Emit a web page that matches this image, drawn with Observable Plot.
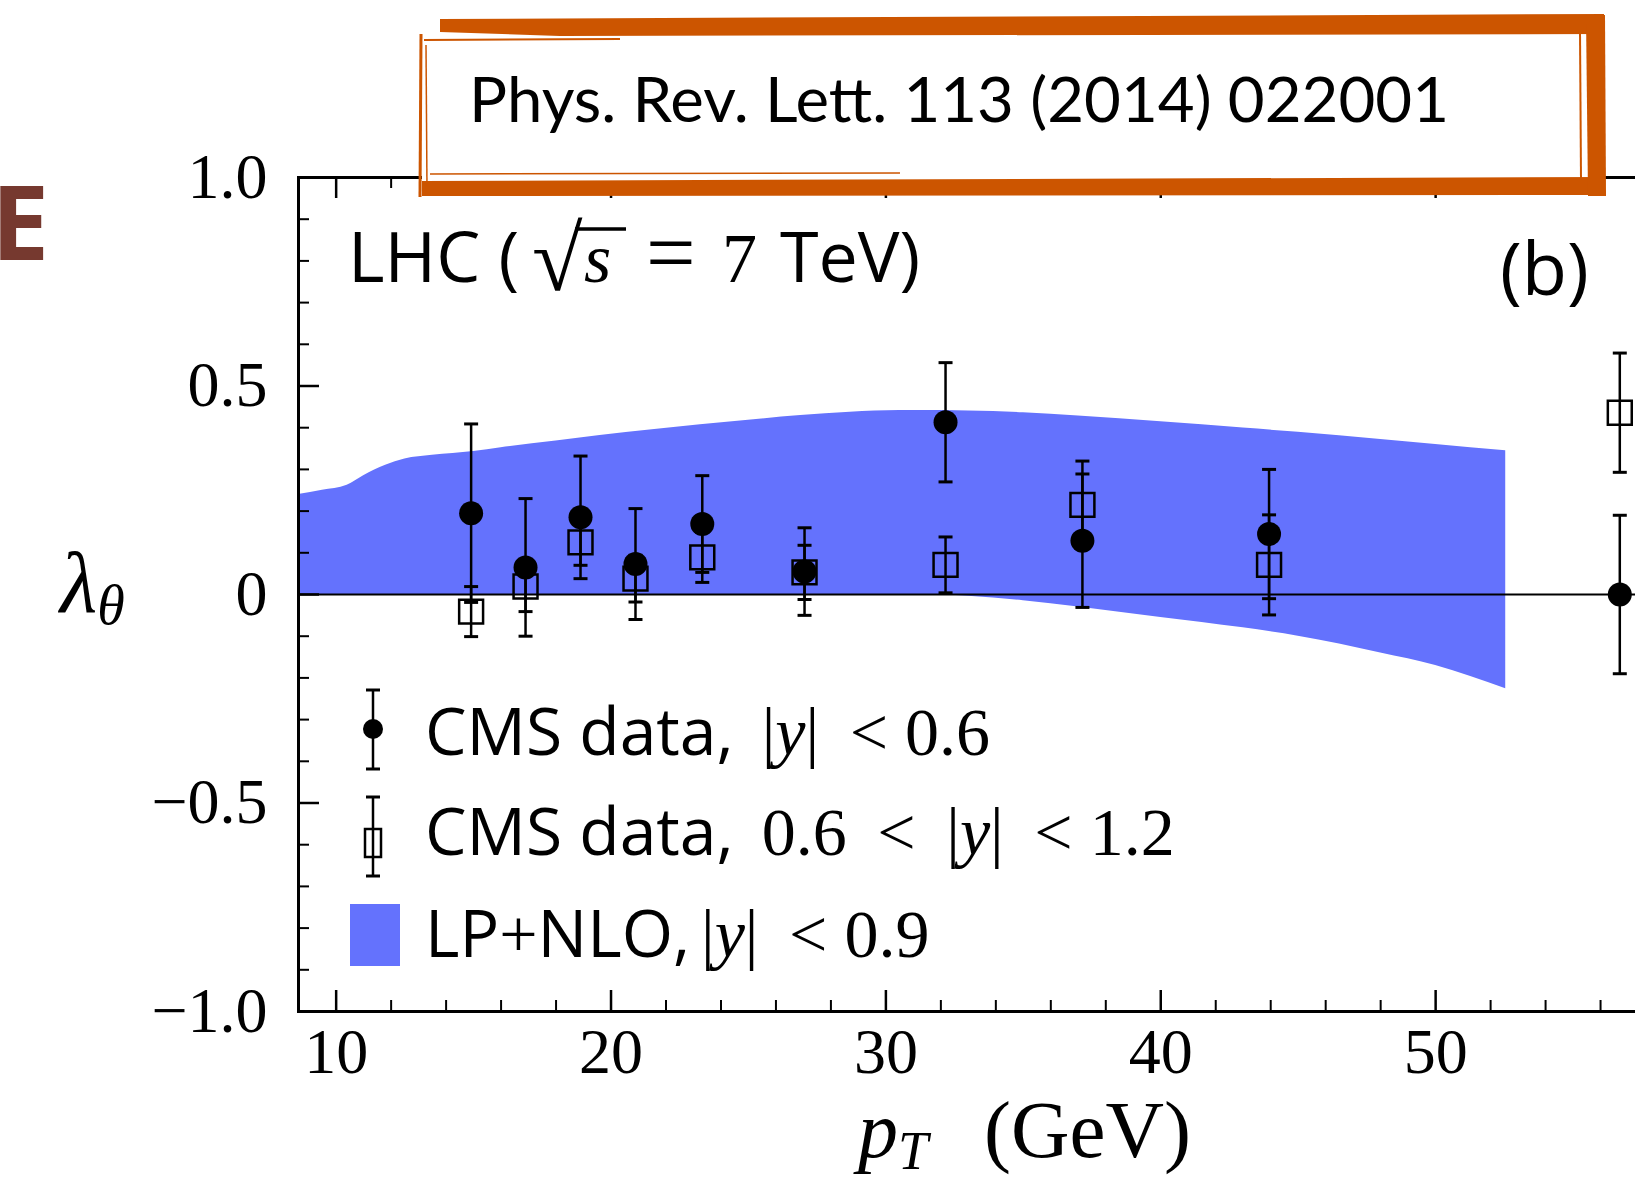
<!DOCTYPE html>
<html>
<head>
<meta charset="utf-8">
<script src="https://cdn.jsdelivr.net/npm/d3@7"></script>
<script src="https://cdn.jsdelivr.net/npm/@observablehq/plot@0.6"></script>
<style>
  html, body { margin: 0; padding: 0; background: #fff; overflow: hidden; width: 1635px; height: 1177px; }
  #wrap { position: relative; width: 1635px; height: 1177px; overflow: hidden; }
  #wrap > svg { position: absolute; left: 0; top: 0; max-width: none !important; }
</style>
</head>
<body>
<div id="wrap"></div>
<script>
// ---------- data ----------
const ptBins      = [14.91, 16.89, 18.89, 20.89, 23.32, 27.04, 32.17, 37.15, 43.94, 56.7];
// CMS data, |y| < 0.6 (solid circles)
const lamCentral  = [0.195, 0.065, 0.185, 0.073, 0.169, 0.055, 0.413, 0.129, 0.145, 0.0];
const errCentral  = [0.214, 0.165, 0.147, 0.133, 0.116, 0.105, 0.143, 0.160, 0.155, 0.19];
// CMS data, 0.6 < |y| < 1.2 (open squares)
const lamForward  = [-0.041, 0.019, 0.125, 0.038, 0.089, 0.053, 0.071, 0.215, 0.071, 0.436];
const errForward  = [0.060, 0.060, 0.055, 0.056, 0.060, 0.065, 0.067, 0.105, 0.120, 0.143];
// LP+NLO band, |y| < 0.9
const bandPt = [8.63, 9.5, 10.4, 11.0, 11.8, 12.5, 13.5, 15, 16, 18, 19.6, 21.5, 23.25, 25, 26.9, 28.7, 30.5, 31.2, 33, 35, 37, 40, 43, 45, 48, 50, 52.55];
const bandLo = [0, 0, 0, 0, 0, 0, 0, 0, 0, 0, 0, 0, 0, 0, 0, 0, 0, 0, -0.004, -0.015, -0.03, -0.055, -0.08, -0.10, -0.14, -0.17, -0.226];
const bandHi = [0.24, 0.25, 0.262, 0.285, 0.31, 0.325, 0.334, 0.343, 0.352, 0.368, 0.381, 0.395, 0.407, 0.418, 0.429, 0.437, 0.441, 0.441, 0.44, 0.436, 0.428, 0.414, 0.399, 0.389, 0.372, 0.36, 0.345];
// axes
const xMajorTicks = [10, 20, 30, 40, 50];
const xMinorTicks = [12, 14, 16, 18, 22, 24, 26, 28, 32, 34, 36, 38, 42, 44, 46, 48, 52, 54, 56, 58];
const yMajorTicks = [-1, -0.5, 0, 0.5, 1];
const yMinorTicks = [-0.9, -0.8, -0.7, -0.6, -0.4, -0.3, -0.2, -0.1, 0.1, 0.2, 0.3, 0.4, 0.6, 0.7, 0.8, 0.9];
const yTickLabels = ["\u22121.0", "\u22120.5", "0", "0.5", "1.0"];

const BLUE = "#6472fd";

const central = ptBins.map((pt, i) => ({pt, v: lamCentral[i], e: errCentral[i]}));
const forward = ptBins.map((pt, i) => ({pt, v: lamForward[i], e: errForward[i]}));
const band = bandPt.map((pt, i) => ({pt, lo: bandLo[i], hi: bandHi[i]}));

const W = 1720, H = 1177, ML = 298, MR = 10, MT = 177, MB = 166;
const innerW = W - ML - MR, innerH = H - MT - MB;
const MAJ = 21, MIN = 11;

const cap = {draw(ctx, size) { const r = Math.sqrt(size / Math.PI); ctx.moveTo(-r, 0); ctx.lineTo(r, 0); }};

const errMarks = (data) => [
  Plot.ruleX(data, {x: "pt", y1: d => d.v - d.e, y2: d => d.v + d.e, stroke: "black", strokeWidth: 2.5}),
  Plot.dot(data, {x: "pt", y: d => d.v + d.e, symbol: cap, r: 7, fill: "none", stroke: "black", strokeWidth: 3}),
  Plot.dot(data, {x: "pt", y: d => d.v - d.e, symbol: cap, r: 7, fill: "none", stroke: "black", strokeWidth: 3})
];

const chart = Plot.plot({
  width: W, height: H,
  marginLeft: ML, marginRight: MR, marginTop: MT, marginBottom: MB,
  x: {domain: [8.63, 60]},
  y: {domain: [-1, 1]},
  style: {background: "transparent", fontFamily: "'Liberation Serif', serif", fontSize: "64px", color: "black", overflow: "visible", maxWidth: "none"},
  marks: [
    Plot.areaY(band, {x: "pt", y1: "lo", y2: "hi", fill: BLUE, curve: "monotone-x"}),
    Plot.ruleY([0], {stroke: "black", strokeWidth: 2}),
    // ticks pointing inward
    Plot.tickX(xMajorTicks, {x: d => d, insetTop: innerH - MAJ, strokeWidth: 2.5}),
    Plot.tickX(xMinorTicks, {x: d => d, insetTop: innerH - MIN, strokeWidth: 2}),
    Plot.tickX(xMajorTicks, {x: d => d, insetBottom: innerH - MAJ, strokeWidth: 2.5}),
    Plot.tickX(xMinorTicks, {x: d => d, insetBottom: innerH - MIN, strokeWidth: 2}),
    Plot.tickY(yMajorTicks, {y: d => d, insetRight: innerW - MAJ, strokeWidth: 2.5}),
    Plot.tickY(yMinorTicks, {y: d => d, insetRight: innerW - MIN, strokeWidth: 2}),
    Plot.frame({stroke: "black", strokeWidth: 3}),
    Plot.axisX({ticks: xMajorTicks, tickSize: 0, tickPadding: 16, label: null, fontSize: 64}),
    Plot.axisY({ticks: yMajorTicks, tickSize: 0, tickPadding: 31, label: null, fontSize: 64,
                tickFormat: d => yTickLabels[yMajorTicks.indexOf(d)]}),
    // open squares
    ...errMarks(forward),
    Plot.dot(forward, {x: "pt", y: "v", symbol: "square", r: 13.5, fill: "none", stroke: "black", strokeWidth: 2.5}),
    // solid circles
    ...errMarks(central),
    Plot.dot(central, {x: "pt", y: "v", r: 12, fill: "black", stroke: "none"})
  ]
});
chart.style.maxWidth = "none";
document.getElementById("wrap").appendChild(chart);

// ---------- annotations overlay ----------
const ov = d3.select("#wrap").append("svg")
  .attr("width", 1635).attr("height", 1177)
  .style("pointer-events", "none");

const SANS = "'Open Sans', 'DejaVu Sans', sans-serif";
const SERIF = "'Liberation Serif', serif";

// big letter at left edge
ov.append("text").attr("x", -9).attr("y", 260).attr("font-family", SANS).attr("font-weight", 700)
  .attr("font-size", 104).attr("fill", "#76392f").text("E");

// title box with rough orange border
const OR = "#cc5500";
const box = ov.append("g");
box.append("rect").attr("x", 422).attr("y", 30).attr("width", 1170).attr("height", 154).attr("fill", "white");
box.append("path").attr("fill", OR).attr("d", "M440,19 L1604,14 L1605,34 L560,36 L440,32 Z");
box.append("path").attr("fill", OR).attr("d", "M422,181 L1604,177 L1606,195 L422,196 Z");
box.append("path").attr("fill", OR).attr("d", "M1586,16 L1605,15 L1606,196 L1588,196 Z");
box.append("line").attr("x1", 1580).attr("y1", 32).attr("x2", 1581).attr("y2", 180).attr("stroke", OR).attr("stroke-width", 2);
box.append("line").attr("x1", 421).attr("y1", 34).attr("x2", 420).attr("y2", 197).attr("stroke", OR).attr("stroke-width", 3);
box.append("line").attr("x1", 426).attr("y1", 45).attr("x2", 427).attr("y2", 190).attr("stroke", OR).attr("stroke-width", 1.5);
box.append("line").attr("x1", 424).attr("y1", 40).attr("x2", 620).attr("y2", 39).attr("stroke", OR).attr("stroke-width", 2);
box.append("line").attr("x1", 430).attr("y1", 174).attr("x2", 900).attr("y2", 173).attr("stroke", OR).attr("stroke-width", 1.5);
box.append("text").attr("x", 469).attr("y", 122).attr("font-family", "Lato, 'Open Sans', sans-serif")
  .attr("font-size", 62).attr("textLength", 980).attr("lengthAdjust", "spacingAndGlyphs")
  .attr("fill", "black").text("Phys. Rev. Lett. 113 (2014) 022001");

// LHC label
const lhc = ov.append("text").attr("y", 282).attr("font-size", 70).attr("fill", "black");
lhc.append("tspan").attr("x", 348).attr("font-family", SANS).text("LHC (");
lhc.append("tspan").attr("x", 532).attr("y", 290).attr("font-family", SERIF).attr("font-size", 92).text("\u221A");
lhc.append("tspan").attr("x", 584).attr("y", 282).attr("font-family", SERIF).attr("font-style", "italic").text("s");
lhc.append("tspan").attr("x", 646).attr("font-family", SERIF).attr("font-size", 88).text("=");
lhc.append("tspan").attr("x", 722).attr("font-family", SERIF).text("7");
lhc.append("tspan").attr("x", 780).attr("font-family", SANS).text("TeV)");
ov.append("line").attr("x1", 575).attr("x2", 626).attr("y1", 229).attr("y2", 229).attr("stroke", "black").attr("stroke-width", 3.5);

// panel label
ov.append("text").attr("x", 1500).attr("y", 295).attr("font-family", SANS).attr("font-size", 74).attr("fill", "black").text("(b)");

// axis titles
const yl = ov.append("text").attr("x", 60).attr("y", 612).attr("font-family", SERIF).attr("font-style", "italic").attr("fill", "black");
yl.append("tspan").attr("font-size", 86).text("\u03BB");
yl.append("tspan").attr("font-size", 56).attr("dy", 12).text("\u03B8");

const xl = ov.append("text").attr("x", 858).attr("y", 1157).attr("font-family", SERIF).attr("fill", "black");
xl.append("tspan").attr("font-size", 80).attr("font-style", "italic").text("p");
xl.append("tspan").attr("font-size", 54).attr("font-style", "italic").attr("dy", 12).text("T");
xl.append("tspan").attr("x", 984).attr("dy", -12).attr("font-size", 81).text("(GeV)");

// legend
const lg = ov.append("g").attr("stroke", "black");
function errGlyph(cx, y1, y2) {
  lg.append("line").attr("x1", cx).attr("x2", cx).attr("y1", y1).attr("y2", y2).attr("stroke-width", 2.5);
  lg.append("line").attr("x1", cx - 7).attr("x2", cx + 7).attr("y1", y1).attr("y2", y1).attr("stroke-width", 3);
  lg.append("line").attr("x1", cx - 7).attr("x2", cx + 7).attr("y1", y2).attr("y2", y2).attr("stroke-width", 3);
}
errGlyph(373, 690, 769);
lg.append("circle").attr("cx", 373).attr("cy", 729).attr("r", 10).attr("fill", "black").attr("stroke", "none");
errGlyph(373, 797, 876);
lg.append("rect").attr("x", 365).attr("y", 829).attr("width", 16).attr("height", 28).attr("fill", "none").attr("stroke-width", 2.5);
ov.append("rect").attr("x", 350).attr("y", 904).attr("width", 50).attr("height", 62).attr("fill", BLUE);

// legend texts: [text, font, italic]
const legendRows = [
  {y: 755, parts: [["CMS data,\u00A0\u2009", SANS, 0], ["|", SERIF, 0], ["y", SERIF, 1], ["|\u00A0\u2009<\u00A0", SERIF, 0], ["0.6", SERIF, 0]]},
  {y: 855, parts: [["CMS data,\u00A0\u2009", SANS, 0], ["0.6\u00A0\u2009<\u00A0\u2009|", SERIF, 0], ["y", SERIF, 1], ["|\u00A0\u2009<\u00A0", SERIF, 0], ["1.2", SERIF, 0]]},
  {y: 957, parts: [["LP", SANS, 0], ["+", SERIF, 0], ["NLO,\u2009", SANS, 0], ["|", SERIF, 0], ["y", SERIF, 1], ["|\u00A0\u2009<\u00A0", SERIF, 0], ["0.9", SERIF, 0]]}
];
legendRows.forEach(row => {
  const t = ov.append("text").attr("x", 425).attr("y", row.y).attr("fill", "black");
  row.parts.forEach(([s, f, it]) => {
    const sp = t.append("tspan").attr("font-family", f).attr("font-size", f === SANS ? 66 : 68).text(s);
    if (it) sp.attr("font-style", "italic");
  });
});
</script>
</body>
</html>
